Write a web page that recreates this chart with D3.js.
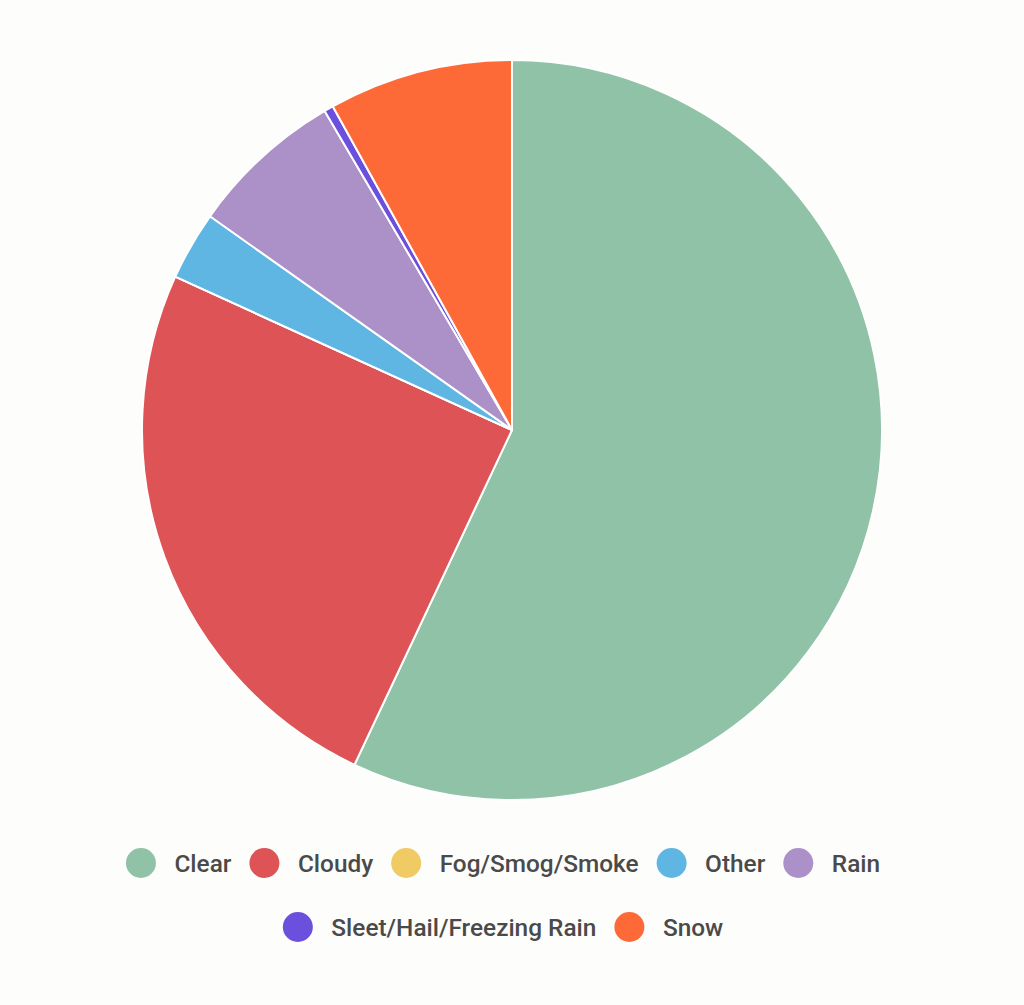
<!DOCTYPE html>
<html><head><meta charset="utf-8">
<script src="https://cdn.jsdelivr.net/npm/d3@7"></script>
<style>
html,body{margin:0;padding:0;background:#fdfdfb;}
svg{display:block;}
</style></head>
<body>
<svg id="chart" width="1024" height="1005"></svg>
<script>
const categories = ["Clear","Cloudy","Fog/Smog/Smoke","Other","Rain","Sleet/Hail/Freezing Rain","Snow"];
const values = [57.0, 24.8, 0.0, 3.0, 6.75, 0.4, 8.05];
const colors = ["#8fc2a6","#de5356","#f0ca63","#5fb6e3","#ab91c8","#6b50dd","#fd6a37"];

const svg = d3.select("#chart");
const cx = 512, cy = 430, r = 370;
const data = categories.map((c,i)=>({name:c, value:values[i], color:colors[i]}));
const pie = d3.pie().value(d=>d.value).sort(null);
const arc = d3.arc().innerRadius(0).outerRadius(r);
const g = svg.append("g").attr("transform",`translate(${cx},${cy})`);
g.selectAll("path").data(pie(data)).join("path")
  .attr("d",arc).attr("fill",d=>d.data.color)
  .attr("stroke","#ffffff").attr("stroke-width",2).attr("stroke-linejoin","round");

// legend
const rows = [[0,1,2,3,4],[5,6]];
const rowY = [863, 927];
const fontSize = 24.4, circR = 15, circToText = 18.5, itemGap = 18;
const legendCenter = 503;
rows.forEach((row,ri)=>{
  const lg = svg.append("g");
  let x = 0;
  row.forEach((idx,k)=>{
    const it = lg.append("g").attr("transform",`translate(${x},0)`);
    it.append("circle").attr("cx",circR).attr("cy",0).attr("r",circR).attr("fill",colors[idx]);
    const t = it.append("text").attr("x",2*circR+circToText).attr("y",0)
      .attr("dy","0.35em").attr("font-family","Roboto, sans-serif").attr("font-size",fontSize)
      .attr("font-weight",500).attr("fill","#4a4a4a").text(categories[idx]);
    const w = t.node().getComputedTextLength();
    x += 2*circR + circToText + w + itemGap;
  });
  const total = x - itemGap;
  lg.attr("transform",`translate(${legendCenter - total/2},${rowY[ri]})`);
});
</script>
</body></html>
